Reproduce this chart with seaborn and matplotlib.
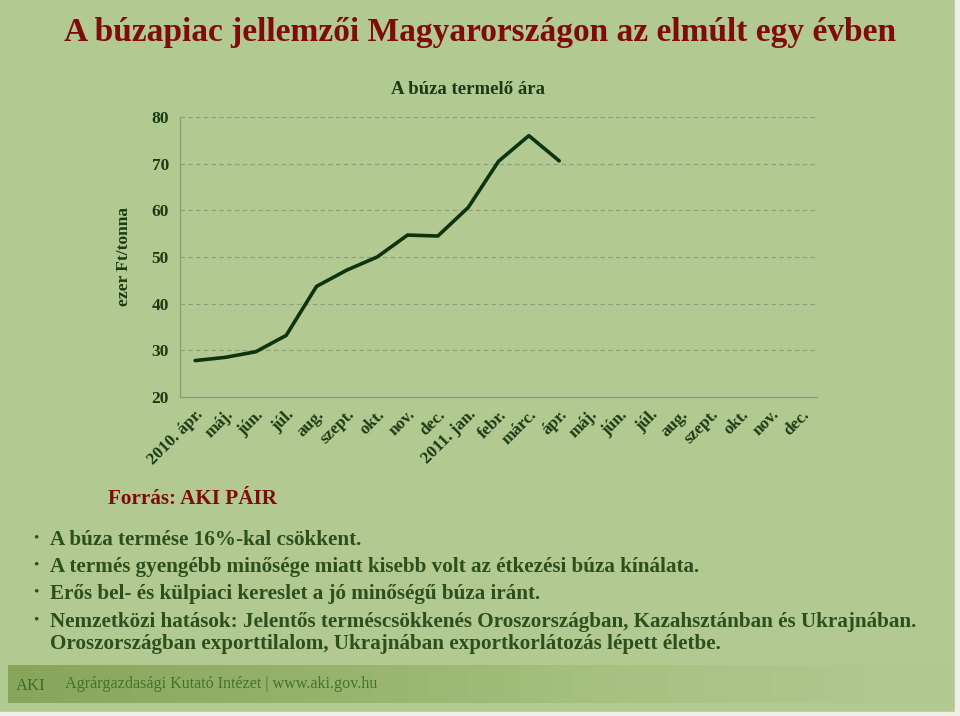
import numpy as np
import pandas as pd
import matplotlib
matplotlib.use("Agg")
import matplotlib.pyplot as plt
import seaborn as sns
from matplotlib.colors import LinearSegmentedColormap

# ---- data ----
months = ["2010. ápr.", "máj.", "jún.", "júl.", "aug.", "szept.", "okt.", "nov.", "dec.",
          "2011. jan.", "febr.", "márc.", "ápr.", "máj.", "jún.", "júl.", "aug.", "szept.",
          "okt.", "nov.", "dec."]
prices = [27.8, 28.5, 29.7, 33.2, 43.7, 47.2, 50.0, 54.7, 54.5,
          60.6, 70.5, 76.0, 70.6, np.nan, np.nan, np.nan, np.nan, np.nan,
          np.nan, np.nan, np.nan]
y_ticks = [20, 30, 40, 50, 60, 70, 80]

title = "A búzapiac jellemzői Magyarországon az elmúlt egy évben"
chart_title = "A búza termelő ára"
y_label = "ezer Ft/tonna"
source = "Forrás: AKI PÁIR"
bullets = [
    "A búza termése 16%-kal csökkent.",
    "A termés gyengébb minősége miatt kisebb volt az étkezési búza kínálata.",
    "Erős bel- és külpiaci kereslet a jó minőségű búza iránt.",
    "Nemzetközi hatások: Jelentős terméscsökkenés Oroszországban, Kazahsztánban és Ukrajnában.",
]
bullet_cont = "Oroszországban exporttilalom, Ukrajnában exportkorlátozás lépett életbe."
footer = "Agrárgazdasági Kutató Intézet | www.aki.gov.hu"

df = pd.DataFrame({"idx": np.arange(len(months)), "price": prices})

# ---- style ----
BG = "#b3c992"
DARKGREEN = "#1c3a12"
TEXTGREEN = "#2c4f1e"
RED = "#7e0c0c"
sns.set_theme(style="white")
plt.rcParams["font.family"] = ["Liberation Serif", "DejaVu Serif"]

W, H = 960, 716
fig = plt.figure(figsize=(W / 100, H / 100), dpi=100, facecolor=BG)

def fx(x):
    return x / W

def fy(y):
    return 1 - y / H

# footer gradient band
bg_ax = fig.add_axes([0, 0, 1, 1], zorder=-10)
bg_ax.set_axis_off()
bg_ax.set_xlim(0, W)
bg_ax.set_ylim(H, 0)
grad = np.linspace(0, 1, 256)[None, :]
cmap = LinearSegmentedColormap.from_list("band", ["#87a65a", "#96b36c", "#a9c283", "#b3c992"])
bg_ax.imshow(grad, extent=(8, 955, 703, 665), aspect="auto", cmap=cmap, zorder=0)
bg_ax.add_patch(plt.Rectangle((0, 712), W, 4, color="#eef0e6", zorder=1))
bg_ax.add_patch(plt.Rectangle((955, 0), 5, H, color="#eef0e6", zorder=1))

# ---- chart ----
ax = fig.add_axes([fx(180), fy(397), fx(817) - fx(180), fy(117) - fy(397)])
ax.set_facecolor(BG)
sns.lineplot(data=df, x="idx", y="price", ax=ax, color="#0e340e", linewidth=2.6)

ax.set_xlim(-0.5, len(months) - 0.5)
ax.set_ylim(20, 80)
ax.set_yticks(y_ticks)
ax.set_yticklabels([str(v) for v in y_ticks], fontsize=12.5, fontweight="bold", color=DARKGREEN)
ax.set_xticks(np.arange(len(months)))
ax.set_xticklabels(months, rotation=45, ha="right", va="top", rotation_mode="anchor",
                   fontsize=12.3, fontweight="bold", color=DARKGREEN)
ax.set_xticks(np.arange(len(months) + 1) - 0.5, minor=True)
ax.tick_params(axis="x", which="major", length=0, pad=7)
ax.tick_params(axis="x", which="minor", length=5, color="#8c9a80", direction="out")
ax.tick_params(axis="y", length=4, color="#8c9a80", direction="out", pad=4)
ax.yaxis.grid(True, linestyle=(0, (4, 3)), color="#8e9c80", linewidth=0.8)
ax.xaxis.grid(False)
for s in ["top", "right"]:
    ax.spines[s].set_visible(False)
for s in ["left", "bottom"]:
    ax.spines[s].set_color("#8c9a80")
    ax.spines[s].set_linewidth(0.9)
ax.set_xlabel("")
ax.set_ylabel(y_label, fontsize=12.5, fontweight="bold", color=DARKGREEN, labelpad=14)
fig.text(fx(468), fy(90), chart_title, ha="center", va="center", fontsize=13.5,
         fontweight="bold", color=DARKGREEN)

# ---- slide texts ----
fig.text(fx(480), fy(33), title, ha="center", va="center", fontsize=24,
         fontweight="bold", color=RED)
fig.text(fx(108), fy(499), source, ha="left", va="center", fontsize=15.2,
         fontweight="bold", color=RED)
ys = [540, 567, 594, 622]
for yy, t in zip(ys, bullets):
    fig.text(fx(36), fy(yy - 2), "•", ha="center", va="center", fontsize=11, color=TEXTGREEN)
    fig.text(fx(50), fy(yy), t, ha="left", va="center", fontsize=15.2,
             fontweight="bold", color=TEXTGREEN)
fig.text(fx(50), fy(644), bullet_cont, ha="left", va="center", fontsize=15.2,
         fontweight="bold", color=TEXTGREEN)

# footer texts
fig.text(fx(31), fy(686), "AKI", ha="center", va="center", fontsize=12,
         color="#3f6b2a")
fig.text(fx(65), fy(684), footer, ha="left", va="center", fontsize=11.6,
         color="#44722d")

fig.savefig("out.png", dpi=100, facecolor=BG)
